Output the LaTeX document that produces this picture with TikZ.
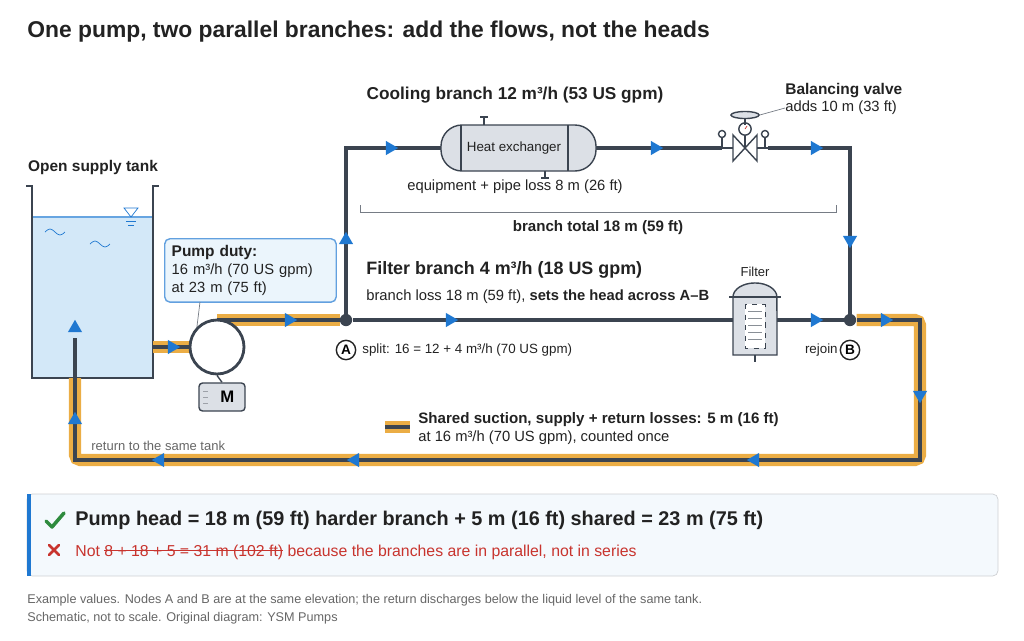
\documentclass[tikz,border=0pt]{standalone}
\usepackage{fontspec}
\setmainfont{Liberation Sans}
\usetikzlibrary{shapes.geometric}
\definecolor{pipe}{HTML}{3B4450}
\definecolor{band}{HTML}{EBAD45}
\definecolor{flowc}{HTML}{1F78D1}
\definecolor{water}{HTML}{D3E8F8}
\definecolor{equip}{HTML}{DCE0E6}
\definecolor{txt}{HTML}{222222}
\definecolor{note}{HTML}{666666}
\definecolor{bad}{HTML}{C8342E}
\definecolor{good}{HTML}{2E8B3E}
\newlength\strkw
\newcommand\strikeout[1]{\settowidth\strkw{#1}\rlap{\rule[0.3em]{\strkw}{0.5pt}}#1}
\begin{document}
\begin{tikzpicture}[x=0.02cm, y=-0.02cm,
    pipeline/.style={draw=pipe, line width=2.5pt},
    shared/.style={draw=band, line width=7pt},
    flow/.style={isosceles triangle, isosceles triangle apex angle=60, fill=flowc,
      inner sep=0pt, minimum height=7pt, minimum width=7pt},
    junction/.style={circle, fill=pipe, inner sep=0pt, minimum size=7pt},
    tag/.style={circle, draw=txt, thick, inner sep=0pt, minimum size=11pt, font=\fontsize{7.8}{9}\selectfont\bfseries},
    label/.style={font=\fontsize{8.4}{10}\selectfont, text=txt, inner sep=0pt},
    head/.style={font=\fontsize{9.8}{11}\selectfont\bfseries, text=txt, inner sep=0pt},
    equipment/.style={draw=pipe, thick, fill=equip}
  ]
  \useasboundingbox (0,0) rectangle (1024,640);
  \node[font=\fontsize{13}{15}\selectfont\bfseries, text=txt, anchor=west, inner sep=0pt] (title) at (27,32)
    {One pump, two parallel branches: add the flows, not the heads};

  % tank
  \fill[water] (32,217) rectangle (153,378);
  \draw[water!40!flowc, thick] (32,217) -- (153,217);
  \draw[pipe, line width=1.6pt] (26,186) -- (32,186) -- (32,378) -- (153,378) -- (153,186) -- (159,186);
  \draw[flowc, thin] (124,208) -- (138,208) -- (131,217) -- cycle;
  \draw[flowc, thin] (126,221) -- (136,221) (128,225) -- (134,225);
  \draw[flowc, thin] (45,232) sin (50,229) cos (55,232) sin (60,235) cos (65,232);
  \draw[flowc, thin] (90,244) sin (95,241) cos (100,244) sin (105,247) cos (110,244);
  \node[head, anchor=south, font=\fontsize{8.8}{10}\selectfont\bfseries] (tanklbl) at (93,175) {Open supply tank};

  % coordinates of the loop
  \coordinate (out) at (153,347);
  \coordinate (pumpout) at (217,320);
  \node[junction] (A) at (346,320) {};
  \node[junction] (B) at (850,320) {};
  \coordinate (c1) at (346,148);
  \coordinate (c2) at (850,148);
  \coordinate (r1) at (920,320);
  \coordinate (r2) at (920,460);
  \coordinate (r3) at (75,460);
  \coordinate (r4) at (75,378);
  \coordinate (r5) at (75,338);

  % shared legs
  \draw[shared] (out) -- (190,347);
  \draw[shared] (pumpout) -- (A);
  \draw[shared, rounded corners=3pt] (B) -- (r1) -- (r2) -- (r3) -- (r4);
  \draw[pipeline] (out) -- (190,347);
  \draw[pipeline] (pumpout) -- (A);
  \draw[pipeline] (B) -- (r1) -- (r2) -- (r3) -- (r5);

  % branches
  \draw[pipeline] (A) -- (c1) -- (441,148);
  \draw[pipeline] (596,148) -- (722,148);
  \draw[pipeline] (768,148) -- (c2) -- (B);
  \draw[pipeline] (A) -- (733,320);
  \draw[pipeline] (777,320) -- (B);

  % pump and motor
  \node[circle, draw=pipe, line width=1.6pt, fill=white, inner sep=0pt,
    minimum size=1.08cm] (pump) at (217,347) {};
  \node[equipment, rounded corners=2pt, minimum width=0.92cm, minimum height=0.56cm,
    font=\fontsize{9.5}{10}\selectfont\bfseries] (motor) at (222,397) {\hspace{6pt}M};
  \draw[pipe, thick] (pump.south) -- (motor.north);
  \draw[pipe!50, thin] (203,391) -- (208,391) (203,397) -- (208,397) (203,403) -- (208,403);
  \node[draw=flowc!70, fill=water!45, rounded corners=3pt, thick, align=left, anchor=north west,
    text width=3.15cm, inner sep=4pt, font=\fontsize{8.4}{10}\selectfont, text=txt] (duty) at (164,238)
    {\textbf{\fontsize{8.8}{10}\selectfont Pump duty:}\\16 m³/h (70 US gpm)\\at 23 m (75 ft)};
  \draw[pipe!70, thin] (200,302) -- (pump.north west);

  % heat exchanger
  \draw[equipment, rounded corners=12pt] (441,125) rectangle (596,171);
  \draw[pipe, thick] (461,125) -- (461,171) (568,125) -- (568,171);
  \draw[pipe, thick] (484,125) -- (484,117) (480,117) -- (488,117);
  \draw[pipe, thick] (545,171) -- (545,178) (541,178) -- (549,178);
  \node[label, font=\fontsize{7.6}{9}\selectfont] (hx) at (514,148) {Heat exchanger};
  \node[head] (cool) at (515,95) {Cooling branch 12 m³/h (53 US gpm)};
  \node[label, anchor=west] (hxloss) at (407,187) {equipment + pipe loss 8 m (26 ft)};
  \draw[pipe!70, thin] (360,205) -- (360,212) -- (836,212) -- (836,205);
  \node[head, font=\fontsize{8.6}{10}\selectfont\bfseries] (total) at (598,228) {branch total 18 m (59 ft)};

  % balancing valve
  \draw[pipe, thick, fill=white] (733,135) -- (757,161) -- (757,135) -- (733,161) -- cycle;
  \draw[pipe, thick] (745,148) -- (745,133);
  \node[circle, draw=pipe, thick, fill=white, inner sep=0pt, minimum size=7pt] (gauge) at (745,129) {};
  \draw[bad, thin] (745,129) -- (747,126);
  \node[ellipse, draw=pipe, thick, fill=equip, inner sep=0pt, minimum width=16pt, minimum height=4pt] (wheel) at (745,115) {};
  \draw[pipe, thick] (745,118) -- (745,125);
  \draw[pipe, thick] (722,148) -- (733,148) (757,148) -- (768,148);
  \draw[pipe, thick] (722,148) -- (722,138) (765,148) -- (765,138);
  \node[circle, draw=pipe, thick, fill=white, inner sep=0pt, minimum size=4pt] (tap1) at (722,134) {};
  \node[circle, draw=pipe, thick, fill=white, inner sep=0pt, minimum size=4pt] (tap2) at (765,134) {};
  \node[head, anchor=west, font=\fontsize{8.8}{10}\selectfont\bfseries] (bvl) at (785,91) {Balancing valve};
  \node[label, anchor=west] (bva) at (785,108) {adds 10 m (33 ft)};
  \draw[pipe!70, thin] (wheel.east) -- (bva.west);

  % filter
  \draw[equipment] (733,355) -- (733,297) arc[start angle=180, end angle=0, x radius=12.5pt, y radius=8pt] -- (777,355) -- cycle;
  \draw[pipe, thick] (729,297) -- (781,297) (755,355) -- (755,362);
  \draw[pipe, thin, dashed, fill=white] (745,304) rectangle (765,348);
  \foreach \yy in {311,318,325,332,339} \draw[pipe!60, thin] (748,\yy) -- (762,\yy);
  \node[label, font=\fontsize{7.4}{8}\selectfont] (filter) at (755,272) {Filter};
  \node[head, font=\fontsize{10.2}{12}\selectfont\bfseries, anchor=west] (fb) at (366,270) {Filter branch 4 m³/h (18 US gpm)};
  \node[label, anchor=west] (fbl) at (366,297) {branch loss 18 m (59 ft), \textbf{sets the head across A–B}};

  % tags
  \node[tag] (tA) at (346,350) {A};
  \node[label, anchor=west, font=\fontsize{7.6}{9}\selectfont] (split) at (362,350) {split: 16 = 12 + 4 m³/h (70 US gpm)};
  \node[tag] (tB) at (850,350) {B};
  \node[label, anchor=east, font=\fontsize{7.6}{9}\selectfont] (rejoin) at (838,350) {rejoin};

  % flow arrows
  \foreach \px/\py/\r [count=\i] in {172/347/0, 289/320/0, 450/320/0, 815/320/0, 885/320/0,
      346/240/90, 390/148/0, 655/148/0, 815/148/0, 850/240/-90, 920/395/-90,
      755/460/180, 355/460/180, 160/460/180, 75/420/90, 75/328/90}
    \node[flow, rotate=\r] (f\i) at (\px,\py) {};

  % legend
  \draw[band, line width=7pt] (385,427) -- (410,427);
  \draw[pipe, line width=2pt] (385,427) -- (410,427);
  \node[head, font=\fontsize{8.6}{10}\selectfont\bfseries, anchor=west] (leg1) at (418,420) {Shared suction, supply + return losses: 5 m (16 ft)};
  \node[label, anchor=west] (leg2) at (418,438) {at 16 m³/h (70 US gpm), counted once};
  \node[label, anchor=west, text=note, font=\fontsize{7.4}{9}\selectfont] (ret) at (91,446) {return to the same tank};

  % result box
  \draw[fill=water!25!white, draw=pipe!25, rounded corners=3pt] (27,494) rectangle (998,576);
  \fill[flowc] (27,494) rectangle (31,576);
  \draw[good, line width=2pt, line cap=round, line join=round] (46,521) -- (52,527) -- (64,513);
  \draw[bad, line width=1.5pt, line cap=round] (49,545) -- (59,555) (59,545) -- (49,555);
  \node[anchor=west, inner sep=0pt, text=txt, font=\fontsize{11.3}{13}\selectfont\bfseries] (res1) at (75,520)
    {Pump head = 18 m (59 ft) harder branch + 5 m (16 ft) shared = 23 m (75 ft)};
  \node[anchor=west, inner sep=0pt, text=bad, font=\fontsize{9}{11}\selectfont] (res2) at (75,552)
    {Not \strikeout{8 + 18 + 5 = 31 m (102 ft)} because the branches are in parallel, not in series};

  % footer
  \node[anchor=west, inner sep=0pt, text=note, font=\fontsize{7.2}{9}\selectfont] (foot1) at (27,600)
    {Example values. Nodes A and B are at the same elevation; the return discharges below the liquid level of the same tank.};
  \node[anchor=west, inner sep=0pt, text=note, font=\fontsize{7.2}{9}\selectfont] (foot2) at (27,618)
    {Schematic, not to scale. Original diagram: YSM Pumps};
\end{tikzpicture}
\end{document}
